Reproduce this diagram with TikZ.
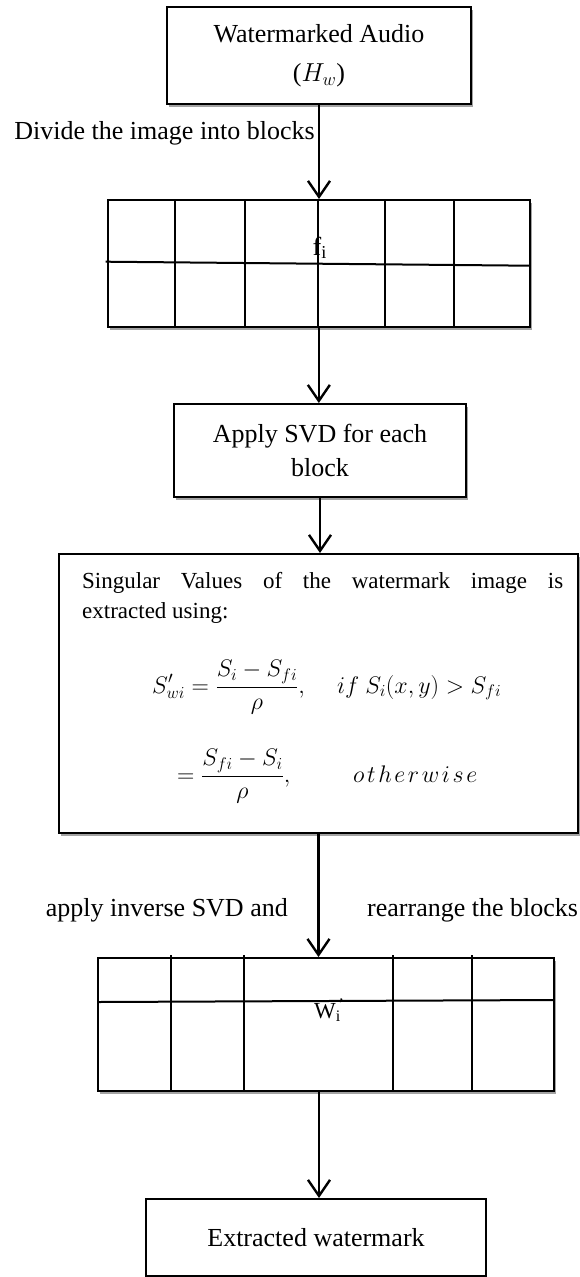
\RequirePackage{fix-cm}
\documentclass[tikz,border=0pt]{standalone}
\usepackage{fontspec}
\setmainfont{Liberation Serif}
\usetikzlibrary{arrows.meta,shadows}
\tikzset{
  edge/.style={line width=2pt},
  boxnode/.style={draw, line width=2pt, fill=white, inner sep=0pt,
    drop shadow={shadow xshift=2pt, shadow yshift=-3pt, fill=black!45, opacity=0.8}},
  plainbox/.style={draw, line width=2pt, fill=white, inner sep=0pt},
  flow/.style={line width=2.2pt, -{Straight Barb[length=16pt,width=22pt,line width=2.4pt]}},
  big/.style={font=\fontsize{26}{34}\selectfont, inner sep=0pt},
  mid/.style={font=\fontsize{23}{30}\selectfont, inner sep=0pt},
  eqn/.style={font=\fontsize{24}{30}\selectfont, inner sep=0pt},
}
\begin{document}
\begin{tikzpicture}[x=1pt,y=1pt]
\useasboundingbox (0,0) rectangle (580,-1277);

% Box 1
\node[boxnode, minimum width=304pt, minimum height=97pt, align=center, big] (audio) at (319,-55.5)
  {Watermarked Audio\\[5pt]($H_w$)};
\node[big, anchor=east] (lbl1) at (315,-133) {Divide the image into blocks};

% Grid 1
\node[boxnode, minimum width=422pt, minimum height=127pt] (grid1) at (318.85,-263.5) {};
\foreach \gx in {175,245,318,385,454} \draw[edge] (\gx,-200) -- (\gx,-327);
\draw[edge] (105.7,-261.7) -- (530,-265.7);
\node[big, anchor=base west] (fi) at (312.5,-255) {f\textsubscript{i}};

% Box 2
\node[boxnode, minimum width=292pt, minimum height=93pt, align=center, big] (svd) at (320,-450.5)
  {Apply SVD for each\\block};

% Box 3
\node[boxnode, minimum width=519pt, minimum height=279pt] (extract) at (318.5,-693.5) {};
\node[mid, anchor=base west, text width=481pt, align=justify] (para) at (82,-588)
  {Singular Values of the watermark image is\linebreak extracted using:};
\node[eqn, anchor=base west] (eq1a) at (152,-693)
  {$\displaystyle S'_{wi} = \frac{S_i - S_{fi}}{\rho},$};
\node[eqn, anchor=base west] (eq1b) at (337,-693)
  {$if\ S_i(x,y) > S_{fi}$};
\node[eqn, anchor=base west] (eq2a) at (177,-782)
  {$\displaystyle = \frac{S_{fi} - S_i}{\rho},$};
\node[eqn, anchor=base west] (eq2b) at (353,-782)
  {$o\mkern2mu t\mkern2mu h\mkern2mu e\mkern2mu r\mkern2mu w\mkern2mu i\mkern2mu s\mkern2mu e$};

% labels between box 3 and grid 2
\node[big, anchor=east] (lbl2) at (288,-910) {apply inverse SVD and};
\node[big, anchor=west] (lbl3) at (367,-910) {rearrange the blocks};

% Grid 2
\node[boxnode, minimum width=456pt, minimum height=133pt] (grid2) at (326,-1024.5) {};
\foreach \gx in {171,244,393,472} \draw[edge] (\gx,-955) -- (\gx,-1091);
\draw[edge] (98,-1002) -- (554,-1000);
\node[mid, anchor=base west] (wi) at (314,-1018) {W\rlap{\textsuperscript{\,’}}\textsubscript{i}};

% Box 5
\node[plainbox, minimum width=340pt, minimum height=77pt, big] (out) at (316,-1237.5)
  {Extracted watermark};

% connectors
\draw[flow] (audio.south) -- (audio.south |- grid1.north);
\draw[flow] (grid1.south) -- (grid1.south |- svd.north);
\draw[flow] (svd.south) -- (svd.south |- extract.north);
\draw[flow] (extract.south) -- (extract.south |- grid2.north);
\draw[flow] ([xshift=-7pt]grid2.south) -- ([xshift=-7pt]grid2.south |- out.north);
\end{tikzpicture}
\end{document}
